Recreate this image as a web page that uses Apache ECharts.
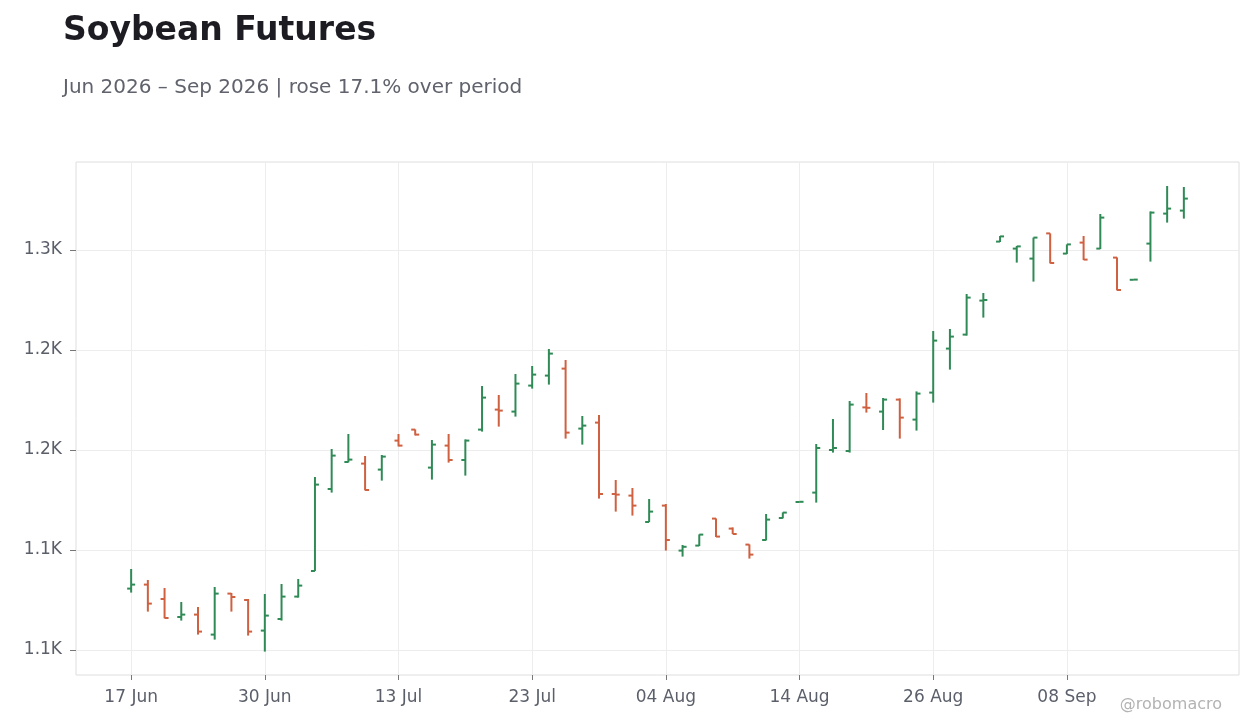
<!DOCTYPE html>
<html>
<head>
<meta charset="utf-8">
<title>Soybean Futures</title>
<script src="https://cdn.jsdelivr.net/npm/echarts@6/dist/echarts.min.js"></script>
<style>
    html, body { margin: 0; padding: 0; background: #fff; }
    #chart { width: 1260px; height: 728px; }
</style>
</head>
<body>
<div id="chart"></div>
<script>
    // trading days (Juneteenth, 3 Jul and Labor Day are closed)
    var dates = [
        '17 Jun','18 Jun','22 Jun','23 Jun','24 Jun','25 Jun','26 Jun','29 Jun','30 Jun',
        '01 Jul','02 Jul','06 Jul','07 Jul','08 Jul','09 Jul','10 Jul','13 Jul','14 Jul','15 Jul',
        '16 Jul','17 Jul','20 Jul','21 Jul','22 Jul','23 Jul','24 Jul','27 Jul','28 Jul','29 Jul',
        '30 Jul','31 Jul','03 Aug','04 Aug','05 Aug','06 Aug','07 Aug','10 Aug','11 Aug','12 Aug',
        '13 Aug','14 Aug','17 Aug','18 Aug','19 Aug','20 Aug','21 Aug','24 Aug','25 Aug','26 Aug',
        '27 Aug','28 Aug','31 Aug','01 Sep','02 Sep','03 Sep','04 Sep','08 Sep','09 Sep','10 Sep',
        '11 Sep','14 Sep','15 Sep','16 Sep','17 Sep'
    ];
    var opens = [
        1080.7, 1082.7, 1075.5, 1066.5, 1067.7, 1057.7, 1078.2, 1075.0, 1059.7, 1065.5,
        1076.7, 1089.5, 1130.5, 1144.0, 1143.2, 1140.2, 1154.7, 1160.2, 1141.2, 1152.2,
        1145.0, 1160.2, 1170.2, 1169.2, 1182.2, 1187.2, 1190.7, 1160.7, 1163.7, 1128.0,
        1127.2, 1114.0, 1122.2, 1099.7, 1102.2, 1115.7, 1110.7, 1102.7, 1105.0, 1116.0,
        1124.0, 1128.7, 1150.0, 1149.5, 1171.3, 1169.2, 1175.2, 1165.2, 1178.7, 1200.7,
        1207.7, 1224.7, 1254.2, 1250.7, 1245.7, 1258.3, 1248.2, 1253.7, 1250.7, 1246.2,
        1235.1, 1253.2, 1268.2, 1269.7
    ];
    var highs = [
        1090.5, 1085.0, 1081.0, 1074.0, 1071.5, 1081.5, 1078.5, 1075.5, 1078.0, 1083.0,
        1085.5, 1136.5, 1150.5, 1158.0, 1147.0, 1147.5, 1158.0, 1160.3, 1155.0, 1158.0,
        1155.3, 1182.0, 1177.5, 1188.0, 1192.0, 1200.5, 1195.0, 1167.0, 1167.5, 1135.0,
        1131.0, 1125.5, 1123.0, 1102.5, 1107.8, 1115.8, 1111.3, 1102.8, 1118.0, 1118.8,
        1124.2, 1153.0, 1165.5, 1174.5, 1178.5, 1176.0, 1175.8, 1179.3, 1209.5, 1210.5,
        1228.0, 1228.5, 1257.0, 1252.0, 1256.2, 1258.3, 1252.8, 1257.0, 1268.0, 1246.3,
        1235.3, 1269.3, 1282.0, 1281.5
    ];
    var lows = [
        1078.7, 1069.2, 1065.8, 1064.7, 1057.7, 1055.2, 1069.2, 1057.2, 1049.2, 1064.7,
        1076.2, 1089.5, 1128.7, 1143.8, 1129.8, 1134.7, 1151.8, 1157.3, 1135.2, 1143.7,
        1137.2, 1159.2, 1161.7, 1166.7, 1180.7, 1182.7, 1155.7, 1152.7, 1125.7, 1119.2,
        1117.2, 1114.0, 1099.7, 1096.7, 1102.0, 1106.5, 1108.0, 1095.7, 1104.8, 1115.8,
        1123.9, 1123.7, 1148.7, 1148.7, 1168.7, 1160.0, 1155.7, 1159.7, 1173.7, 1190.2,
        1207.2, 1216.2, 1254.0, 1243.7, 1234.2, 1243.3, 1248.0, 1245.0, 1250.5, 1229.8,
        1235.0, 1244.2, 1263.7, 1265.7
    ];
    var closes = [
        1082.7, 1073.2, 1066.0, 1067.7, 1059.2, 1078.2, 1076.5, 1059.2, 1067.2, 1076.7,
        1082.2, 1132.7, 1147.2, 1145.2, 1130.0, 1146.7, 1152.2, 1157.7, 1152.7, 1145.0,
        1154.7, 1176.2, 1169.7, 1183.2, 1187.7, 1198.2, 1158.7, 1162.2, 1128.0, 1127.7,
        1122.2, 1119.2, 1105.0, 1101.6, 1107.7, 1106.7, 1108.0, 1097.7, 1115.2, 1118.7,
        1124.1, 1151.0, 1151.0, 1172.7, 1171.1, 1175.2, 1166.2, 1178.2, 1204.7, 1206.7,
        1226.2, 1225.0, 1256.8, 1251.8, 1256.2, 1243.5, 1252.8, 1245.2, 1266.2, 1230.0,
        1235.2, 1268.7, 1270.7, 1275.7
    ];
    var xTicks = [0, 8, 16, 24, 32, 40, 48, 56];
    var yTicks = [1050, 1100, 1150, 1200, 1250];

    var GREEN = '#2f8a56';
    var RED = '#cf6040';
    var FONT = 'DejaVu Sans';

    var rows = [];
    for (var i = 0; i < dates.length; i++) {
        rows.push([i, opens[i], highs[i], lows[i], closes[i]]);
    }

    var myChart = echarts.init(document.getElementById('chart'));
    var option = {
        animation: false,
        backgroundColor: '#ffffff',
        title: [
            {
                text: 'Soybean Futures',
                left: 58, top: 10,
                textStyle: { fontFamily: FONT, fontSize: 33, fontWeight: 'bold', color: '#1c1c22' }
            },
            {
                text: 'Jun 2026 – Sep 2026 | rose 17.1% over period',
                left: 58, top: 73,
                textStyle: { fontFamily: FONT, fontSize: 20, fontWeight: 'normal', color: '#60626c' }
            }
        ],
        graphic: [{
            type: 'text',
            right: 38, top: 697,
            style: { text: '@robomacro', fill: '#b3b3b3', font: '16px "DejaVu Sans"' }
        }],
        grid: {
            left: 76, right: 21, top: 162, bottom: 53,
            show: true,
            borderColor: '#dedede',
            borderWidth: 1
        },
        xAxis: {
            type: 'value',
            min: -3.3,
            max: 66.3,
            axisLine: { show: false, onZero: false },
            axisTick: { show: true, length: 5, lineStyle: { color: '#777' }, customValues: xTicks },
            axisLabel: {
                customValues: xTicks,
                margin: 14,
                fontFamily: FONT, fontSize: 17, color: '#5b5f6a',
                formatter: function (v) { return dates[Math.round(v)] || ''; }
            },
            splitLine: { show: true, lineStyle: { color: '#ededed' } }
        },
        yAxis: {
            type: 'value',
            min: 1037.5,
            max: 1294,
            axisLine: { show: false, onZero: false },
            axisTick: { show: true, length: 6, lineStyle: { color: '#777' }, customValues: yTicks },
            axisLabel: {
                customValues: yTicks,
                margin: 14,
                fontFamily: FONT, fontSize: 17, color: '#5b5f6a',
                formatter: function (v) { return (Math.round(v / 100) / 10).toFixed(1) + 'K'; }
            },
            splitLine: { show: true, lineStyle: { color: '#ededed' } }
        },
        series: [{
            type: 'custom',
            clip: true,
            data: rows,
            encode: { x: 0, y: [1, 2, 3, 4] },
            renderItem: function (params, api) {
                var x = api.value(0);
                var o = api.value(1), h = api.value(2), l = api.value(3), c = api.value(4);
                var pO = api.coord([x, o]);
                var pH = api.coord([x, h]);
                var pL = api.coord([x, l]);
                var pC = api.coord([x, c]);
                var style = { stroke: c >= o ? GREEN : RED, lineWidth: 2 };
                return {
                    type: 'group',
                    children: [
                        { type: 'line', shape: { x1: pH[0], y1: pH[1], x2: pL[0], y2: pL[1] }, style: style },
                        { type: 'line', shape: { x1: pO[0] - 4, y1: pO[1], x2: pO[0], y2: pO[1] }, style: style },
                        { type: 'line', shape: { x1: pC[0], y1: pC[1], x2: pC[0] + 4, y2: pC[1] }, style: style }
                    ]
                };
            }
        }]
    };
    myChart.setOption(option);
    window.addEventListener('resize', function () { myChart.resize(); });
</script>
</body>
</html>
